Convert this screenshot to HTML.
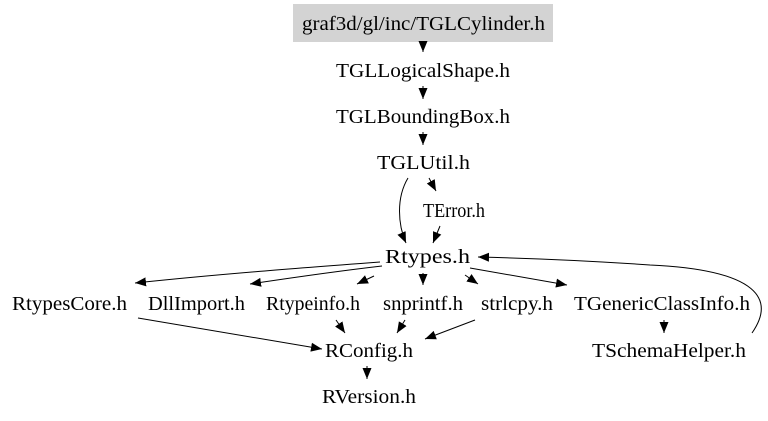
<!DOCTYPE html>
<html><head><style>body{margin:0;background:#fff}svg{display:block}</style></head><body>
<svg width="768" height="421" viewBox="0 0 768 421" xmlns="http://www.w3.org/2000/svg" font-family="Liberation Serif, serif" font-size="20">
<defs><marker id="a" markerWidth="11" markerHeight="10" refX="11" refY="5" orient="auto" markerUnits="userSpaceOnUse"><path d="M0,0.5L11,5L0,9.5z" fill="#000"/></marker></defs>
<rect x="293" y="4" width="260" height="38" fill="#d3d3d3"/>
<g fill="#000">
<text x="302" y="30" textLength="243" lengthAdjust="spacingAndGlyphs">graf3d/gl/inc/TGLCylinder.h</text>
<text x="336" y="77" textLength="174" lengthAdjust="spacingAndGlyphs">TGLLogicalShape.h</text>
<text x="336" y="123" textLength="174" lengthAdjust="spacingAndGlyphs">TGLBoundingBox.h</text>
<text x="377" y="169" textLength="93" lengthAdjust="spacingAndGlyphs">TGLUtil.h</text>
<text x="423" y="217" textLength="62" lengthAdjust="spacingAndGlyphs">TError.h</text>
<text x="385" y="263" textLength="85" lengthAdjust="spacingAndGlyphs">Rtypes.h</text>
<text x="12" y="310" textLength="115" lengthAdjust="spacingAndGlyphs">RtypesCore.h</text>
<text x="148" y="310" textLength="97" lengthAdjust="spacingAndGlyphs">DllImport.h</text>
<text x="266" y="310" textLength="94" lengthAdjust="spacingAndGlyphs">Rtypeinfo.h</text>
<text x="383" y="310" textLength="80" lengthAdjust="spacingAndGlyphs">snprintf.h</text>
<text x="481" y="310" textLength="72" lengthAdjust="spacingAndGlyphs">strlcpy.h</text>
<text x="574" y="310" textLength="176" lengthAdjust="spacingAndGlyphs">TGenericClassInfo.h</text>
<text x="325" y="357" textLength="88" lengthAdjust="spacingAndGlyphs">RConfig.h</text>
<text x="592" y="357" textLength="154" lengthAdjust="spacingAndGlyphs">TSchemaHelper.h</text>
<text x="322" y="403" textLength="94" lengthAdjust="spacingAndGlyphs">RVersion.h</text>
</g>
<g stroke="#000" fill="none" stroke-width="1" marker-end="url(#a)">
<line x1="423" y1="42" x2="423" y2="52"/>
<line x1="423" y1="86" x2="423" y2="99"/>
<line x1="423" y1="132" x2="423" y2="145"/>
<line x1="429" y1="178" x2="436" y2="191"/>
<path d="M408,178 C396,198 398,225 406,243"/>
<line x1="440" y1="226" x2="433" y2="243"/>
<path d="M380,262 C300,268 220,274 135,283"/>
<path d="M382,266 C330,272 290,278 250,284"/>
<line x1="374" y1="276" x2="357" y2="284"/>
<line x1="423" y1="273" x2="423" y2="285"/>
<line x1="465" y1="275" x2="478" y2="284"/>
<line x1="470" y1="268" x2="567" y2="285"/>
<path d="M752,333 C775,300 760,270 650,265 C580,260 520,258 478,257"/>
<line x1="138" y1="318" x2="322" y2="349"/>
<line x1="336" y1="320" x2="345" y2="333"/>
<line x1="405" y1="320" x2="397" y2="333"/>
<line x1="475" y1="320" x2="425" y2="339"/>
<line x1="664" y1="320" x2="664" y2="333"/>
<line x1="367" y1="366" x2="367" y2="379"/>
</g>
</svg>
</body></html>
